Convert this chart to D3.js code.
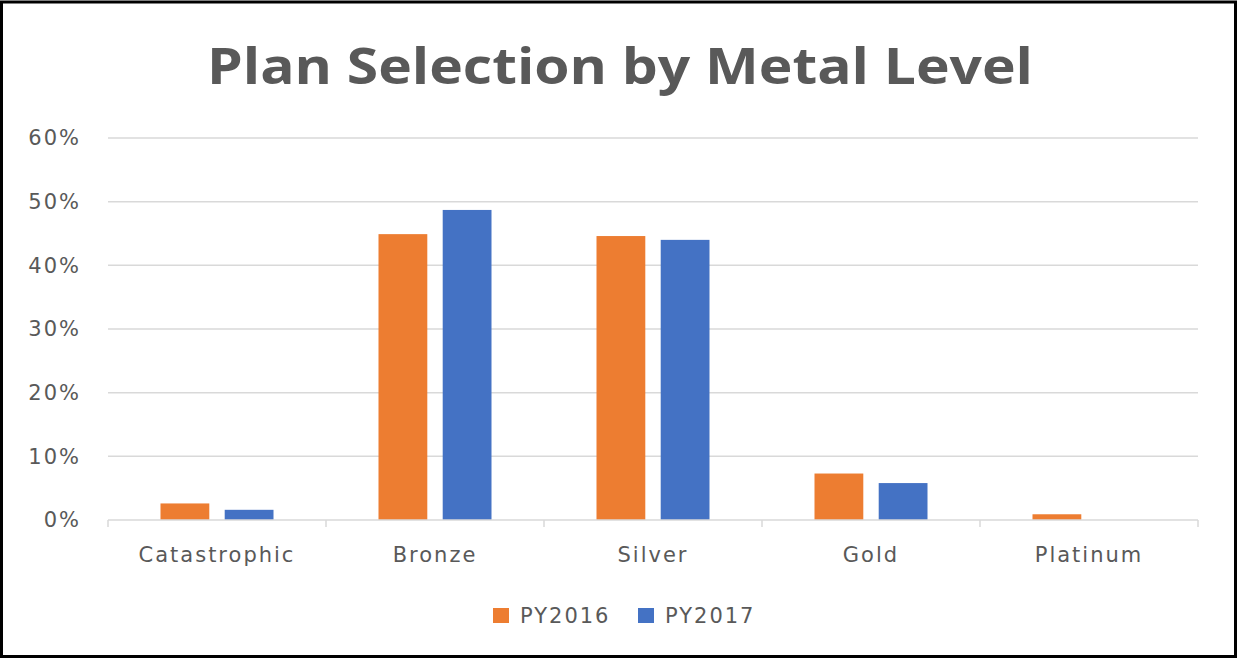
<!DOCTYPE html>
<html>
<head>
<meta charset="utf-8">
<script src="https://cdn.jsdelivr.net/npm/d3@7"></script>
<style>
  body { margin: 0; background: #fff; }
  text { font-family: "DejaVu Sans", sans-serif; }
</style>
</head>
<body>
<div id="viz"></div>
<script>
var width = 1238;
var height = 659;

var categories = ["Catastrophic", "Bronze", "Silver", "Gold", "Platinum"];
var seriesNames = ["PY2016", "PY2017"];
var py2016 = [0.026, 0.449, 0.446, 0.073, 0.009];
var py2017 = [0.016, 0.487, 0.440, 0.058, 0.0];
var yTicks = [0, 0.1, 0.2, 0.3, 0.4, 0.5, 0.6];
var colors = ["#ED7D31", "#4472C4"];

var margin = {top: 138, right: 40, bottom: 139, left: 108};

var svg = d3.select("#viz")
    .append("svg")
    .attr("width", width)
    .attr("height", height);

svg.append("rect")
    .attr("x", 1.5).attr("y", 2)
    .attr("width", width - 4).attr("height", height - 4.5)
    .attr("fill", "#fff")
    .attr("stroke", "#000")
    .attr("stroke-width", 3);

svg.append("text")
    .attr("x", 620)
    .attr("y", 84)
    .attr("text-anchor", "middle")
    .attr("font-size", 50)
    .attr("font-weight", "bold")
    .attr("fill", "#595959")
    .attr("textLength", 826)
    .attr("lengthAdjust", "spacingAndGlyphs")
    .style("font-family", "'Open Sans', sans-serif")
    .text("Plan Selection by Metal Level");

var x0 = d3.scaleBand()
    .domain(categories)
    .range([margin.left, width - margin.right]);

var x1 = d3.scaleBand()
    .domain(seriesNames)
    .range([0, 113])
    .paddingInner(0.24);

var y = d3.scaleLinear()
    .domain([0, 0.6])
    .range([height - margin.bottom, margin.top]);

// gridlines
svg.append("g")
    .selectAll("line")
    .data(yTicks.slice(1))
    .enter()
    .append("line")
    .attr("x1", margin.left)
    .attr("x2", width - margin.right)
    .attr("y1", d => y(d))
    .attr("y2", d => y(d))
    .attr("stroke", "#d9d9d9")
    .attr("stroke-width", 1.5);

// y labels
svg.append("g")
    .selectAll("text")
    .data(yTicks)
    .enter()
    .append("text")
    .attr("x", 81)
    .attr("y", d => y(d))
    .attr("dy", "0.35em")
    .attr("text-anchor", "end")
    .attr("font-size", 21)
    .attr("letter-spacing", 2)
    .attr("fill", "#595959")
    .text(d3.format(".0%"));

// bars
var groups = svg.append("g")
    .selectAll("g")
    .data(categories)
    .enter()
    .append("g")
    .attr("transform", d => "translate(" + (x0(d) + x0.bandwidth() / 2 - 56.5) + ",0)");

groups.selectAll("rect")
    .data((d, i) => [py2016[i], py2017[i]].map((v, j) => ({name: seriesNames[j], value: v, color: colors[j]})))
    .enter()
    .append("rect")
    .attr("x", d => x1(d.name))
    .attr("width", x1.bandwidth())
    .attr("y", d => y(d.value))
    .attr("height", d => y(0) - y(d.value))
    .attr("fill", d => d.color);

// x axis
var xAxis = svg.append("g")
    .attr("transform", "translate(0," + y(0) + ")");

xAxis.append("line")
    .attr("x1", margin.left)
    .attr("x2", width - margin.right)
    .attr("stroke", "#d9d9d9")
    .attr("stroke-width", 1.5);

var boundaries = categories.map(c => x0(c)).concat([width - margin.right]);
xAxis.selectAll("line.tick")
    .data(boundaries)
    .enter()
    .append("line")
    .attr("class", "tick")
    .attr("x1", d => d).attr("x2", d => d)
    .attr("y1", 0).attr("y2", 7)
    .attr("stroke", "#d9d9d9")
    .attr("stroke-width", 1.5);

xAxis.selectAll("text")
    .data(categories)
    .enter()
    .append("text")
    .attr("x", d => x0(d) + x0.bandwidth() / 2)
    .attr("y", 42)
    .attr("text-anchor", "middle")
    .attr("font-size", 21)
    .attr("letter-spacing", 2)
    .attr("fill", "#595959")
    .text(d => d);

// legend
var legend = svg.append("g");
var legendX = [493, 638];
seriesNames.forEach(function(name, i) {
  legend.append("rect")
      .attr("x", legendX[i]).attr("y", 608)
      .attr("width", 16).attr("height", 15)
      .attr("fill", colors[i]);
  legend.append("text")
      .attr("x", legendX[i] + 27)
      .attr("y", 616)
      .attr("dy", "0.35em")
      .attr("font-size", 21)
      .attr("letter-spacing", 2)
      .attr("fill", "#595959")
      .text(name);
});
</script>
</body>
</html>
